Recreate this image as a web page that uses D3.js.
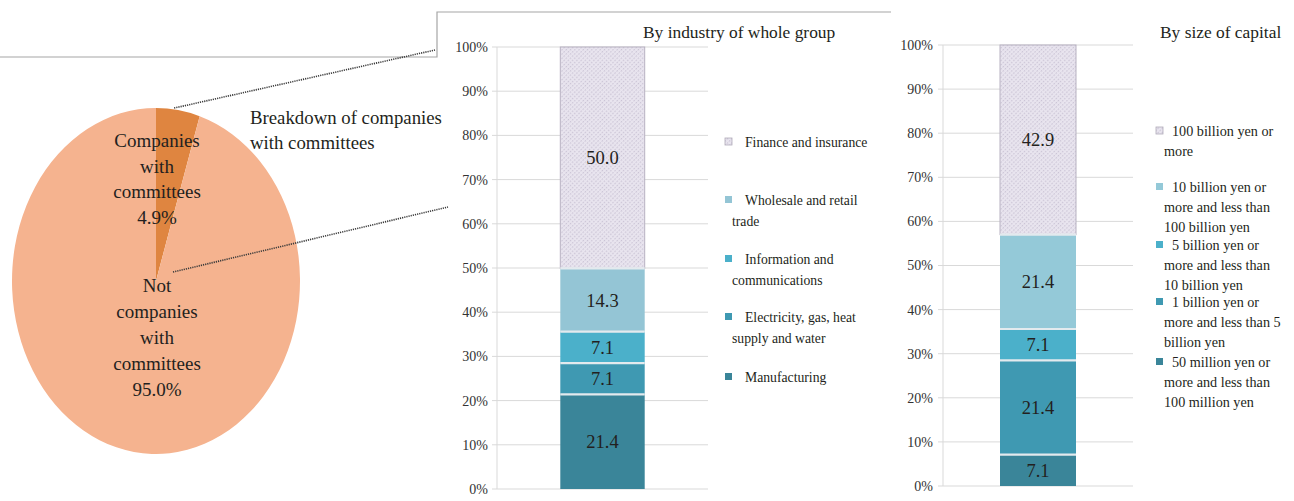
<!DOCTYPE html>
<html>
<head>
<meta charset="utf-8">
<script src="https://cdn.jsdelivr.net/npm/d3@7"></script>
<style>
  html, body { margin: 0; padding: 0; background: #fff; }
  svg { display: block; }
  svg text { font-family: "Liberation Serif", "DejaVu Serif", serif !important; }
</style>
</head>
<body>
<svg id="chart" width="1294" height="501"></svg>
<script>
// Share of companies with committees
const pieLabels = ["Companies with committees", "Not companies with committees"];
const pieValues = [4.9, 95.0];

// Breakdown by industry (bottom to top)
const industryNames = ["Manufacturing", "Electricity, gas, heat supply and water", "Information and communications", "Wholesale and retail trade", "Finance and insurance"];
const industryValues = [21.4, 7.1, 7.1, 14.3, 50.0];

// Breakdown by size of capital (bottom to top)
const capitalNames = ["50 million yen or more and less than 100 million yen", "1 billion yen or more and less than 5 billion yen", "5 billion yen or more and less than 10 billion yen", "10 billion yen or more and less than 100 billion yen", "100 billion yen or more"];
const capitalValues = [7.1, 21.4, 7.1, 21.4, 42.9];

const percentTicks = [0, 10, 20, 30, 40, 50, 60, 70, 80, 90, 100];

const svg = d3.select("#chart");
const textColor = "#231f20";

// fine textured fill for the top segment
const defs = svg.append("defs");
const pat = defs.append("pattern")
  .attr("id", "hatch").attr("patternUnits", "userSpaceOnUse")
  .attr("width", 3).attr("height", 3)
  .attr("patternTransform", "rotate(45)");
pat.append("rect").attr("width", 3).attr("height", 3).attr("fill", "#e9e5ef");
pat.append("rect").attr("x", 0).attr("y", 0).attr("width", 1.2).attr("height", 1.5).attr("fill", "#c9c2d4");

// ---- connecting frame and dotted leader lines ----
svg.append("path")
  .attr("d", d3.line()([[0, 57], [437, 57], [437, 12], [891, 12]]))
  .attr("fill", "none").attr("stroke", "#a6a6a6").attr("stroke-width", 1.2);

// ---- pie ----
const cx = 156, cy = 281, rx = 144, ry = 173;
const pie = d3.pie().sort(null).startAngle(0).endAngle(2 * Math.PI);
const arcs = pie(pieValues);
const arc = d3.arc().innerRadius(0).outerRadius(rx);
const pieColors = ["#df8540", "#f5b38f"];
const pieG = svg.append("g").attr("transform", `translate(${cx},${cy}) scale(1,${ry / rx})`);
pieG.selectAll("path").data(arcs).join("path")
  .attr("d", arc).attr("fill", (d, i) => pieColors[i]);

// leader lines from the small slice to the breakdown charts
const sliceA = arcs[0];
const edgeX = cx + rx * Math.sin((sliceA.startAngle + sliceA.endAngle) / 2);
const edgeY = cy - ry * Math.cos((sliceA.startAngle + sliceA.endAngle) / 2);
svg.append("line")
  .attr("x1", edgeX - 4).attr("y1", edgeY - 2).attr("x2", 435).attr("y2", 50)
  .attr("stroke", "#3a3a3a").attr("stroke-width", 1.6).attr("stroke-dasharray", "1.2,1");
svg.append("line")
  .attr("x1", cx + 17).attr("y1", cy - 9).attr("x2", 448).attr("y2", 207)
  .attr("stroke", "#3a3a3a").attr("stroke-width", 1.6).attr("stroke-dasharray", "1.2,1");

function multiline(g, x, y, lines, lh, anchor, size) {
  const t = g.append("text").attr("x", x).attr("y", y)
    .attr("text-anchor", anchor).attr("font-size", size).attr("fill", textColor);
  lines.forEach((l, i) => t.append("tspan").attr("x", x).attr("dy", i === 0 ? 0 : lh).text(l));
  return t;
}

multiline(svg, 157, 147, ["Companies", "with", "committees", pieValues[0].toFixed(1) + "%"], 25.5, "middle", 19);
multiline(svg, 157, 292, ["Not", "companies", "with", "committees", pieValues[1].toFixed(1) + "%"], 26, "middle", 19);
multiline(svg, 250, 124, ["Breakdown of companies", "with committees"], 25, "start", 18.8);

// ---- stacked percentage column ----
function stackedColumn(opt) {
  const g = svg.append("g");
  const y = d3.scaleLinear().domain([0, 100]).range([opt.y0, opt.y100]);
  const x = d3.scaleBand().domain(["all"]).range([opt.xL, opt.xR]).paddingInner(0.6).paddingOuter(0.3);

  // gridlines
  g.append("g").selectAll("line").data(percentTicks).join("line")
    .attr("x1", opt.xL - 5).attr("x2", opt.xR)
    .attr("y1", d => y(d)).attr("y2", d => y(d))
    .attr("stroke", "#d9d9d9").attr("stroke-width", 1);
  // vertical axis line
  g.append("line").attr("x1", opt.xL).attr("x2", opt.xL)
    .attr("y1", y(0)).attr("y2", y(100)).attr("stroke", "#d9d9d9");

  const axis = d3.axisLeft(y).tickValues(percentTicks).tickFormat(d => d + "%")
    .tickSize(0).tickPadding(opt.tickPad);
  const ag = g.append("g").attr("transform", `translate(${opt.xL},0)`).call(axis);
  ag.select(".domain").remove();
  ag.selectAll("text").attr("font-size", 14).attr("fill", "#333");

  // segments
  let acc = 0;
  const segs = opt.values.map((v, i) => {
    const s = { v, i, lo: acc, hi: Math.min(100, acc + v) };
    acc += v;
    return s;
  });
  segs[segs.length - 1].hi = 100;
  g.append("g").selectAll("rect").data(segs).join("rect")
    .attr("x", x("all")).attr("width", x.bandwidth())
    .attr("y", d => y(d.hi)).attr("height", d => y(d.lo) - y(d.hi))
    .attr("fill", d => opt.colors[d.i])
    .attr("stroke", d => d.i === segs.length - 1 ? "#b8b2c2" : "none").attr("stroke-width", 1);
  // light separators
  g.append("g").selectAll("line").data(segs.slice(1)).join("line")
    .attr("x1", x("all")).attr("x2", x("all") + x.bandwidth())
    .attr("y1", d => y(d.lo)).attr("y2", d => y(d.lo))
    .attr("stroke", "#e3eaee").attr("stroke-width", 2.2);
  // value labels
  g.append("g").selectAll("text").data(segs).join("text")
    .attr("x", x("all") + x.bandwidth() / 2)
    .attr("y", d => (y(d.lo) + y(d.hi)) / 2 + 6.5)
    .attr("text-anchor", "middle").attr("font-size", 18.5).attr("fill", textColor)
    .text(d => d.v.toFixed(1));

  // title
  g.append("text").attr("x", opt.titleX).attr("y", 38).attr("font-size", 17.4)
    .attr("fill", textColor).text(opt.title);

  // legend (top entry first)
  const lg = g.append("g");
  opt.legend.forEach((entry, k) => {
    const idx = opt.values.length - 1 - k;
    lg.append("rect").attr("x", opt.legX).attr("y", entry.y - 9).attr("width", 7).attr("height", 7)
      .attr("fill", opt.colors[idx])
      .attr("stroke", idx === opt.values.length - 1 ? "#b0aab8" : "none").attr("stroke-width", 0.8);
    const t = lg.append("text").attr("font-size", opt.legSize).attr("fill", textColor);
    entry.lines.forEach((l, j) => {
      t.append("tspan").attr("x", j === 0 ? opt.legTextX : opt.legX + opt.wrapIndent)
        .attr("y", entry.y + j * opt.legLH).text(l);
    });
  });
}

stackedColumn({
  values: industryValues,
  colors: ["#3a8599", "#3f99b2", "#4bb0ca", "#94c5d5", "url(#hatch)"],
  xL: 497, xR: 708, y0: 489, y100: 47, tickPad: 9,
  title: "By industry of whole group", titleX: 643,
  legX: 725, legTextX: 745, wrapIndent: 7, legSize: 13.7, legLH: 21,
  legend: [
    { lines: ["Finance and insurance"], y: 147 },
    { lines: ["Wholesale and retail", "trade"], y: 205 },
    { lines: ["Information and", "communications"], y: 264 },
    { lines: ["Electricity, gas, heat", "supply and water"], y: 322 },
    { lines: ["Manufacturing"], y: 382 }
  ]
});

stackedColumn({
  values: capitalValues,
  colors: ["#3a8599", "#3f99b2", "#4bb0ca", "#94c9d8", "url(#hatch)"],
  xL: 943, xR: 1133, y0: 486, y100: 45, tickPad: 10,
  title: "By size of capital", titleX: 1160,
  legX: 1156, legTextX: 1172, wrapIndent: 8, legSize: 14.2, legLH: 20,
  legend: [
    { lines: ["100 billion yen or", "more"], y: 136 },
    { lines: ["10 billion yen or", "more and less than", "100 billion yen"], y: 192 },
    { lines: ["5 billion yen or", "more and less than", "10 billion yen"], y: 250 },
    { lines: ["1 billion yen or", "more and less than 5", "billion yen"], y: 307 },
    { lines: ["50 million yen or", "more and less than", "100 million yen"], y: 367 }
  ]
});
</script>
</body>
</html>
